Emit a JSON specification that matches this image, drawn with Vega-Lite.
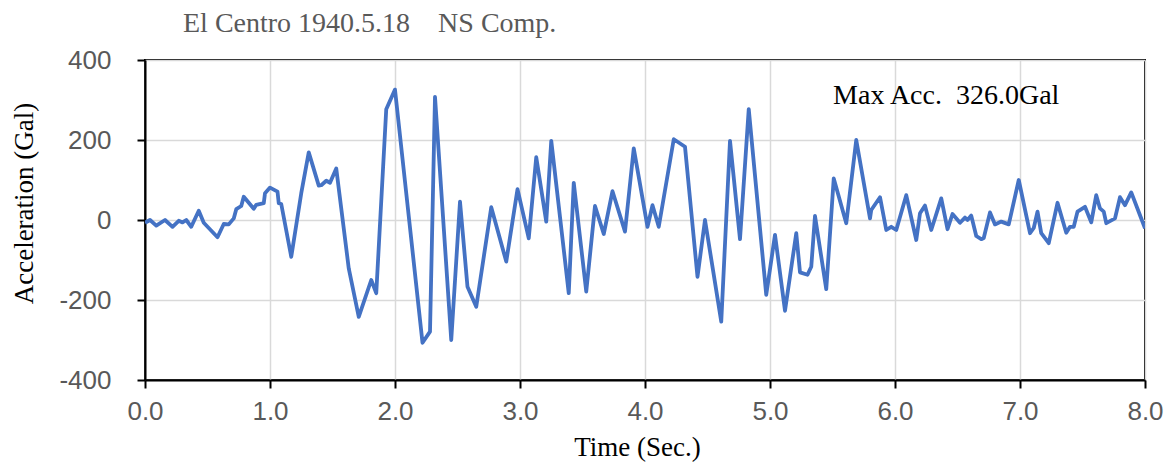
{
  "$schema": "https://vega.github.io/schema/vega-lite/v6.json",
  "width": 1000,
  "height": 320,
  "autosize": {"type": "none"},
  "padding": {"left": 145, "top": 60, "right": 25, "bottom": 87},
  "background": "white",
  "title": {
    "text": "El Centro 1940.5.18\u00a0\u00a0\u00a0\u00a0NS Comp.",
    "anchor": "start",
    "frame": "group",
    "dx": 38,
    "dy": 27,
    "offset": 14,
    "baseline": "alphabetic",
    "font": "Liberation Serif",
    "fontSize": 28,
    "fontWeight": "normal",
    "color": "#595959"
  },
  "config": {
    "view": {"stroke": "#000000", "strokeWidth": 2},
    "axis": {
      "gridColor": "#d9d9d9",
      "gridWidth": 1.5,
      "domainColor": "#000000",
      "domainWidth": 2,
      "tickColor": "#000000",
      "tickWidth": 2,
      "tickSize": 8,
      "labelFont": "Liberation Sans",
      "labelFontSize": 26,
      "labelColor": "#595959",
      "titleFont": "Liberation Serif",
      "titleFontSize": 27,
      "titleFontWeight": "normal",
      "titleColor": "#000000"
    }
  },
  "data": {
    "values": [
      {"t": 0.0, "v": -7}, {"t": 0.04, "v": 0}, {"t": 0.09, "v": -14}, {"t": 0.16, "v": 0},
      {"t": 0.22, "v": -17}, {"t": 0.27, "v": -2}, {"t": 0.30, "v": -6}, {"t": 0.33, "v": 0},
      {"t": 0.37, "v": -17}, {"t": 0.43, "v": 23}, {"t": 0.47, "v": -7}, {"t": 0.58, "v": -43},
      {"t": 0.63, "v": -10}, {"t": 0.67, "v": -11}, {"t": 0.71, "v": 4}, {"t": 0.73, "v": 27},
      {"t": 0.77, "v": 35}, {"t": 0.79, "v": 58}, {"t": 0.87, "v": 28}, {"t": 0.89, "v": 38},
      {"t": 0.95, "v": 42}, {"t": 0.96, "v": 67}, {"t": 1.0, "v": 81}, {"t": 1.06, "v": 71},
      {"t": 1.07, "v": 42}, {"t": 1.09, "v": 40}, {"t": 1.17, "v": -92}, {"t": 1.25, "v": 67},
      {"t": 1.31, "v": 169}, {"t": 1.39, "v": 86}, {"t": 1.41, "v": 87}, {"t": 1.45, "v": 98},
      {"t": 1.48, "v": 93}, {"t": 1.53, "v": 129}, {"t": 1.63, "v": -121}, {"t": 1.71, "v": -242},
      {"t": 1.81, "v": -150}, {"t": 1.85, "v": -183}, {"t": 1.93, "v": 277}, {"t": 2.0, "v": 326},
      {"t": 2.22, "v": -307}, {"t": 2.28, "v": -279}, {"t": 2.32, "v": 308}, {"t": 2.45, "v": -300},
      {"t": 2.52, "v": 46}, {"t": 2.58, "v": -167}, {"t": 2.65, "v": -217}, {"t": 2.77, "v": 32},
      {"t": 2.89, "v": -104}, {"t": 2.98, "v": 77}, {"t": 3.07, "v": -46}, {"t": 3.13, "v": 157},
      {"t": 3.21, "v": -4}, {"t": 3.25, "v": 198}, {"t": 3.39, "v": -183}, {"t": 3.43, "v": 93},
      {"t": 3.53, "v": -179}, {"t": 3.60, "v": 35}, {"t": 3.67, "v": -35}, {"t": 3.74, "v": 72},
      {"t": 3.84, "v": -29}, {"t": 3.91, "v": 179}, {"t": 4.02, "v": -17}, {"t": 4.06, "v": 37},
      {"t": 4.11, "v": -17}, {"t": 4.23, "v": 202}, {"t": 4.32, "v": 183}, {"t": 4.42, "v": -142},
      {"t": 4.48, "v": 0}, {"t": 4.61, "v": -254}, {"t": 4.68, "v": 198}, {"t": 4.76, "v": -48},
      {"t": 4.83, "v": 277}, {"t": 4.97, "v": -187}, {"t": 5.04, "v": -37}, {"t": 5.12, "v": -227},
      {"t": 5.21, "v": -33}, {"t": 5.24, "v": -131}, {"t": 5.30, "v": -137}, {"t": 5.33, "v": -117},
      {"t": 5.36, "v": 10}, {"t": 5.45, "v": -173}, {"t": 5.51, "v": 104}, {"t": 5.61, "v": -8},
      {"t": 5.69, "v": 200}, {"t": 5.80, "v": 4}, {"t": 5.81, "v": 25}, {"t": 5.88, "v": 57},
      {"t": 5.93, "v": -25}, {"t": 5.97, "v": -17}, {"t": 6.01, "v": -25}, {"t": 6.09, "v": 62},
      {"t": 6.17, "v": -50}, {"t": 6.20, "v": 17}, {"t": 6.24, "v": 36}, {"t": 6.29, "v": -25},
      {"t": 6.37, "v": 54}, {"t": 6.42, "v": -23}, {"t": 6.46, "v": 15}, {"t": 6.52, "v": -7},
      {"t": 6.56, "v": 6}, {"t": 6.58, "v": 0}, {"t": 6.61, "v": 11}, {"t": 6.65, "v": -40},
      {"t": 6.69, "v": -48}, {"t": 6.71, "v": -45}, {"t": 6.76, "v": 19}, {"t": 6.80, "v": -11},
      {"t": 6.85, "v": -4}, {"t": 6.91, "v": -11}, {"t": 6.99, "v": 100}, {"t": 7.08, "v": -33},
      {"t": 7.11, "v": -20}, {"t": 7.14, "v": 21}, {"t": 7.17, "v": -33}, {"t": 7.23, "v": -58},
      {"t": 7.30, "v": 43}, {"t": 7.37, "v": -32}, {"t": 7.40, "v": -17}, {"t": 7.43, "v": -17},
      {"t": 7.46, "v": 21}, {"t": 7.52, "v": 33}, {"t": 7.57, "v": -6}, {"t": 7.61, "v": 62},
      {"t": 7.64, "v": 29}, {"t": 7.67, "v": 21}, {"t": 7.69, "v": -8}, {"t": 7.76, "v": 4},
      {"t": 7.80, "v": 57}, {"t": 7.84, "v": 37}, {"t": 7.89, "v": 69}, {"t": 7.96, "v": 12},
      {"t": 8.0, "v": -21}
    ]
  },
  "layer": [
    {
      "mark": {"type": "line", "color": "#4472C4", "strokeWidth": 3.8, "strokeJoin": "round", "clip": true},
      "encoding": {
        "x": {
          "field": "t", "type": "quantitative",
          "scale": {"domain": [0, 8], "nice": false, "zero": false},
          "axis": {
            "values": [0, 1, 2, 3, 4, 5, 6, 7, 8],
            "format": ".1f",
            "title": "Time (Sec.)",
            "labelPadding": 10,
            "titlePadding": 10,
            "titleX": 492,
            "labelFlush": false
          }
        },
        "y": {
          "field": "v", "type": "quantitative",
          "scale": {"domain": [-400, 400], "nice": false},
          "axis": {
            "values": [-400, -200, 0, 200, 400],
            "labelExpr": "datum.value < 0 ? '-' + format(-datum.value, 'd') : format(datum.value, 'd')",
            "title": "Acceleration (Gal)",
            "labelPadding": 26,
            "titlePadding": 20,
            "titleY": 143,
            "labelFlush": false
          }
        }
      }
    },
    {
      "data": {"values": [{"label": "Max Acc.\u00a0\u00a0326.0Gal"}]},
      "mark": {
        "type": "text",
        "font": "Liberation Serif",
        "fontSize": 28,
        "color": "#000000",
        "align": "center",
        "baseline": "middle"
      },
      "encoding": {
        "text": {"field": "label"},
        "x": {"datum": 6.41, "type": "quantitative"},
        "y": {"datum": 310, "type": "quantitative"}
      }
    }
  ]
}
